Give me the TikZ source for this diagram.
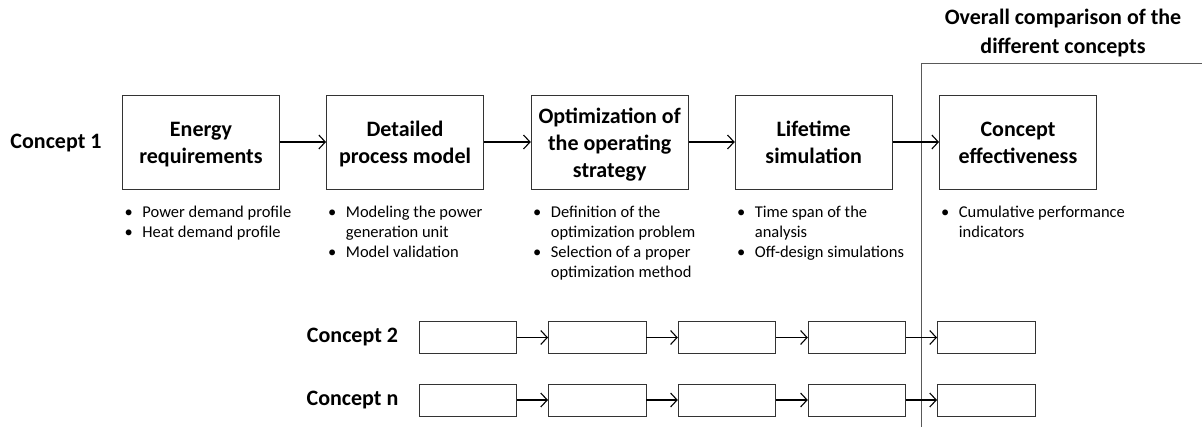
\documentclass[tikz,border=0pt]{standalone}
\usepackage{fontspec}
\setmainfont{Carlito}
\usetikzlibrary{arrows.meta}
% stage title: a centred block, set a little low in its box
\newcommand{\stagetext}[1]{\raisebox{0pt}[\dimexpr\height+6pt\relax][\depth]{\begin{tabular}{@{}c@{}}#1\end{tabular}}}
\begin{document}
\begin{tikzpicture}[x=1pt,y=-1pt,
  stage/.style={draw=black!80, line width=0.9pt, minimum width=157pt, minimum height=94pt,
    inner sep=0pt, align=center, font=\fontsize{22}{27}\selectfont\bfseries},
  small/.style={draw=black!80, line width=0.9pt, minimum width=97.5pt, minimum height=32pt, inner sep=0pt},
  lbl/.style={inner sep=0pt, font=\fontsize{22}{29}\selectfont\bfseries, align=center},
  notes/.style={inner sep=0pt, anchor=north west, font=\fontsize{16.5}{20}\selectfont},
  arr/.style={line width=1.1pt, -{Straight Barb[length=6.5pt,width=14pt,line width=1.1pt]}}]
\useasboundingbox (0,0) rectangle (1202,427);

% separator of the overall comparison column
\coordinate (sepbot) at (921.7,427);
\coordinate (septop) at (921.7,63.3);
\coordinate (sepend) at (1202,63.3);
\draw[black!65, line width=1pt] (sepbot) -- (septop) -- (sepend);
\node[lbl] (overall) at (1063,33.5) {Overall comparison of the\\different concepts};

% concept 1
\node[lbl] (c1) at (56,143) {Concept 1};
\node[stage] (s1) at (201,142) {\stagetext{Energy\\requirements}};
\node[stage] (s2) at (405,142) {\stagetext{Detailed\\process model}};
\node[stage] (s3) at (609.7,142) {\stagetext{Optimization of\\the operating\\strategy}};
\node[stage] (s4) at (813.7,142) {\stagetext{Lifetime\\simulation}};
\node[stage] (s5) at (1018,142) {\stagetext{Concept\\effectiveness}};
\foreach \a/\b in {s1/s2,s2/s3,s3/s4,s4/s5} \draw[arr] (\a.east) -- (\b.west);

% bullet notes under each stage
\newcommand{\bl}{\textbullet}
\node[notes] (n1) at (124.5,203) {\begin{tabular}{@{}l@{\hspace{9.5pt}}l@{}}
  \bl & Power demand profile\\ \bl & Heat demand profile\end{tabular}};
\node[notes] (n2) at (328,203) {\begin{tabular}{@{}l@{\hspace{9.5pt}}l@{}}
  \bl & Modeling the power\\ & generation unit\\ \bl & Model validation\end{tabular}};
\node[notes] (n3) at (533,203) {\begin{tabular}{@{}l@{\hspace{9.5pt}}l@{}}
  \bl & Definition of the\\ & optimization problem\\ \bl & Selection of a proper\\ & optimization method\end{tabular}};
\node[notes] (n4) at (737,203) {\begin{tabular}{@{}l@{\hspace{9.5pt}}l@{}}
  \bl & Time span of the\\ & analysis\\ \bl & Off-design simulations\end{tabular}};
\node[notes] (n5) at (941,203) {\begin{tabular}{@{}l@{\hspace{9.5pt}}l@{}}
  \bl & Cumulative performance\\ & indicators\end{tabular}};

% concept 2 and concept n
\node[lbl] (c2) at (352.5,337.5) {Concept 2};
\node[lbl] (cn) at (352.5,400) {Concept n};
\foreach \r/\y in {a/337.5,b/400}{
  \foreach \i/\x in {1/467.8,2/597.2,3/727,4/857,5/986.2}
    \node[small] (\r\i) at (\x,\y) {};
  \foreach \i/\j in {1/2,2/3,3/4,4/5} \draw[arr] (\r\i.east) -- (\r\j.west);
}
\end{tikzpicture}
\end{document}
